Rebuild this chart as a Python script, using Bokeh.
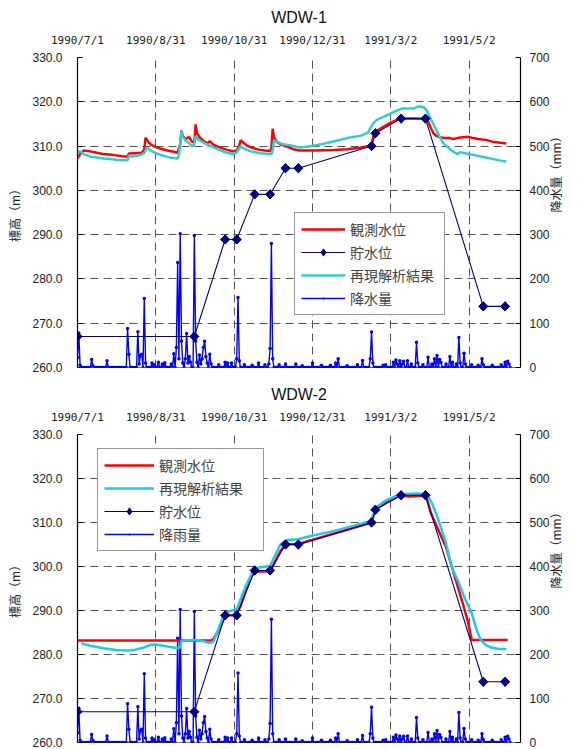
import math
import numpy as np
from bokeh.plotting import figure
from bokeh.models import (Range1d, LinearAxis, FixedTicker, PrintfTickFormatter,
                          Legend, LegendItem, Span, Grid)
from bokeh.layouts import column
from bokeh.embed import file_html
from bokeh.resources import INLINE

# ---------------- data (x = days since 1990/7/1) ----------------
tick_days = [0, 61, 122, 183, 244, 305]
tick_labels = ["1990/7/1", "1990/8/31", "1990/10/31", "1990/12/31", "1991/3/2", "1991/5/2"]
elev_ticks = [260, 270, 280, 290, 300, 310, 320, 330]
rain_ticks = [0, 100, 200, 300, 400, 500, 600, 700]

storage_day = [0, 91, 115, 124, 138, 150, 162, 172, 229, 232, 252, 271, 316, 333]
storage_level = [267.0, 267.0, 288.9, 288.9, 299.1, 299.1, 305.0, 305.0, 310.0, 312.9, 316.2, 316.2, 273.8, 273.8]

rain_day = [0, 1, 2, 11, 12, 23, 39, 40, 47, 48, 49, 50, 52, 53, 58, 60, 63, 66, 68,
            73, 75, 77, 78, 79, 80, 81, 82, 84, 85, 86, 87, 88, 91, 92, 93, 95, 96, 97, 98,
            99, 100, 101, 103, 104, 110, 115, 117, 120, 124, 125, 126, 130, 136, 141, 146,
            149, 150, 151, 152, 157, 162, 170, 175, 183, 190, 197, 201, 203, 210, 218, 222,
            228, 229, 230, 238, 240, 246, 248, 249, 251, 253, 254, 257, 260, 264, 265, 269,
            273, 276, 278, 280, 282, 283, 287, 290, 292, 295, 297, 298, 301, 302, 307, 312,
            315, 316, 323, 330, 333, 335, 336]
rain_mm = [22, 78, 5, 18, 4, 15, 88, 30, 81, 8, 27, 30, 156, 10, 10, 6, 12, 8, 11,
           8, 31, 45, 237, 20, 302, 60, 10, 20, 77, 10, 25, 12, 298, 60, 12, 28, 8, 20, 45,
           59, 25, 10, 30, 8, 6, 12, 10, 10, 20, 158, 15, 6, 5, 10, 6,
           8, 43, 280, 20, 6, 8, 8, 4, 10, 5, 5, 10, 20, 4, 6, 16,
           20, 80, 10, 5, 6, 12, 17, 8, 15, 8, 14, 15, 8, 57, 10, 6,
           23, 8, 20, 27, 18, 12, 8, 25, 12, 8, 68, 10, 32, 8, 6, 5,
           20, 6, 5, 6, 12, 14, 8]
rain_last_day = 337

# WDW-1
obs1_day = [0, 2, 5, 10, 15, 20, 25, 30, 35, 39, 40, 45, 50, 52, 53, 55, 57, 60, 65, 70, 75, 78,
            80, 81, 82, 84, 86, 87, 89, 91, 92, 93, 95, 98, 101, 103, 105, 108, 112, 116, 121,
            124, 126, 127, 129, 132, 136, 141, 146, 150, 151, 152, 153, 155, 158, 163, 168, 173,
            185, 200, 210, 220, 227, 229, 231, 234, 238, 244, 250, 255, 265, 271, 273, 275, 277,
            279, 282, 286, 290, 293, 296, 300, 304, 308, 312, 318, 323, 328, 334]
obs1_level = [307.2, 308.2, 309.0, 308.8, 308.5, 308.2, 308.1, 307.9, 307.7, 307.6, 308.3, 308.4,
              308.5, 309.2, 311.9, 311.0, 310.4, 309.9, 309.4, 309.0, 308.7, 308.5,
              310.5, 313.5, 312.3, 311.6, 311.9, 312.0, 311.0, 310.8, 314.9, 313.0, 312.0, 311.2,
              310.6, 311.1, 310.5, 310.0, 309.6, 309.2, 308.8,
              309.0, 310.0, 311.3, 310.8, 310.1, 309.6, 309.2, 309.0, 308.9, 309.5, 313.9, 312.0,
              311.0, 310.4, 309.9, 309.3, 309.0,
              309.0, 309.1, 309.3, 309.6, 310.0, 310.3, 313.0, 313.6, 314.3, 315.3, 316.1, 316.2,
              316.2, 316.1, 315.6, 314.2, 313.0,
              312.4, 312.0, 311.8, 311.8, 311.6, 311.8, 312.0, 312.1, 311.8, 311.6, 311.4, 311.0,
              310.8, 310.6]
sim1_day = [0, 2, 5, 10, 15, 20, 25, 30, 35, 39, 40, 42, 46, 50, 52, 54, 56, 60, 66, 72, 78, 79,
            81, 82, 84, 86, 88, 90, 91, 92, 94, 97, 100, 105, 110, 115, 121, 124, 127, 130, 135,
            142, 151, 152, 153, 156, 160, 165, 173, 180, 190, 200, 210, 220, 226, 230, 233, 240,
            247, 253, 262, 266, 270, 272, 274, 277, 281, 285, 290, 294, 296, 298, 300, 305, 310,
            315, 320, 325, 330, 334]
sim1_level = [308.6, 308.8, 308.2, 307.6, 307.4, 307.2, 307.1, 306.9, 306.8, 306.8, 307.9, 307.6,
              307.8, 308.1, 308.4, 309.7, 309.2, 308.5, 307.9, 307.4, 307.2, 308.0,
              313.4, 312.2, 311.3, 310.9, 310.3, 309.9, 310.5, 312.2, 311.5, 311.0, 310.5, 309.8,
              309.2, 308.6, 308.2, 308.6, 309.9, 309.4, 308.8,
              308.4, 308.2, 309.0, 311.3, 310.9, 310.4, 310.2, 309.7, 309.9, 310.4, 311.1, 311.8,
              312.3, 313.0, 315.0, 315.9, 316.8,
              317.8, 318.5, 318.5, 319.0, 318.7, 318.0, 316.8, 315.1, 312.7, 310.6, 309.3, 308.5,
              308.2, 308.6, 308.5, 308.2, 307.9,
              307.6, 307.3, 307.0, 306.7, 306.5]

# WDW-2
obs2_day = [0, 20, 40, 60, 80, 104, 106, 109, 112, 115, 122, 124, 127, 131, 135, 138, 150, 153,
            158, 162, 172, 200, 229, 232, 240, 251, 258, 266, 271, 273, 275, 280, 287, 293, 300,
            304, 307, 320, 335]
obs2_level = [283.2, 283.2, 283.2, 283.2, 283.2, 283.2, 283.6, 285.0, 286.8, 288.8, 289.0, 289.3,
              291.0, 294.5, 297.5, 298.8, 298.9, 300.6,
              303.5, 305.0, 305.1, 307.5, 310.0, 313.0, 314.6, 316.1, 315.9, 316.0, 316.1, 314.5,
              312.3, 309.0, 304.4, 298.5, 291.7,
              287.5, 283.3, 283.3, 283.3]
sim2_day = [3, 6, 10, 20, 30, 38, 45, 52, 57, 62, 70, 77, 80, 81, 90, 97, 103, 106, 110, 114,
            118, 124, 127, 131, 136, 140, 150, 153, 158, 163, 172, 180, 200, 228, 233, 240, 251,
            265, 272, 276, 280, 287, 290, 293, 297, 302, 307, 311, 314, 318, 321, 327, 334]
sim2_level = [282.6, 282.3, 282.0, 281.4, 281.0, 280.9, 281.1, 281.6, 282.2, 282.2, 281.8, 281.5,
              281.6, 283.1, 283.3, 283.1, 282.6, 283.0, 286.0, 289.0,
              289.8, 290.3, 292.5, 295.5, 298.5, 299.7, 300.1, 302.0, 305.0, 306.0, 306.2, 306.8,
              308.1, 310.3, 313.5, 315.0, 316.4,
              316.6, 316.4, 314.4, 311.5, 305.3, 301.5, 298.8, 296.2, 292.5, 289.4, 285.5, 283.3,
              282.2, 281.7, 281.3, 281.2]

# ---------------- styling ----------------
FONT_NUM = "Liberation Sans"
FONT_DATE = "DejaVu Sans Mono"
FONT_JP = "Noto Sans CJK JP"
GRID_DASH = "8 5"
RED = "#ff0000"
NAVY = "#000080"
RAIN = "#0000ff"

rain_daily = np.zeros(rain_last_day + 1)
rain_daily[np.array(rain_day)] = np.array(rain_mm, dtype=float)
rain_x = np.arange(rain_last_day + 1)


def make_panel(title, height, border_top, border_bottom, obs_d, obs_v, sim_d, sim_v,
               sim_color, rain_label, order, legend_xy, glyph_w, label_w):
    p = figure(width=577, height=height, x_range=Range1d(0, 345), y_range=Range1d(260, 330),
               output_backend="svg", toolbar_location=None,
               x_axis_location=None, y_axis_location=None,
               min_border_left=77, min_border_right=57,
               min_border_top=border_top, min_border_bottom=border_bottom,
               outline_line_color=None)
    p.center = []
    p.extra_y_ranges = {"rain": Range1d(0, 700)}

    p.add_layout(Grid(dimension=0, ticker=FixedTicker(ticks=tick_days),
                      grid_line_color="#555555", grid_line_dash=GRID_DASH))
    p.add_layout(Grid(dimension=1, ticker=FixedTicker(ticks=elev_ticks),
                      grid_line_color="#555555", grid_line_dash=GRID_DASH))

    left = LinearAxis(ticker=FixedTicker(ticks=elev_ticks),
                      formatter=PrintfTickFormatter(format="%.1f"),
                      axis_label="標高（m）")
    right = LinearAxis(y_range_name="rain", ticker=FixedTicker(ticks=rain_ticks),
                       axis_label="降水量（mm）")
    top = LinearAxis(ticker=FixedTicker(ticks=tick_days),
                     major_label_overrides={d: l for d, l in zip(tick_days, tick_labels)})
    for ax in (left, right):
        ax.axis_line_color = "black"
        ax.axis_line_width = 1.2
        ax.major_tick_in = 5
        ax.major_tick_out = 0
        ax.minor_tick_line_color = None
        ax.major_label_text_font = FONT_NUM
        ax.major_label_text_font_size = "12px"
        ax.major_label_text_color = "#222222"
        ax.axis_label_text_font = FONT_JP
        ax.axis_label_text_font_size = "12px"
        ax.axis_label_text_font_style = "normal"
        ax.axis_label_text_color = "#222222"
    left.major_label_standoff = 15
    left.axis_label_standoff = 6
    right.major_label_standoff = 9
    right.axis_label_standoff = 3
    right.axis_label_orientation = math.pi / 2
    top.axis_line_color = None
    top.major_tick_line_color = None
    top.minor_tick_line_color = None
    top.major_label_standoff = 5
    top.major_label_text_font = FONT_DATE
    top.major_label_text_font_size = "11px"
    top.major_label_text_color = "#222222"
    p.add_layout(left, "left")
    p.add_layout(right, "right")
    p.add_layout(top, "above")

    p.title.text = title
    p.title.align = "center"
    p.title.standoff = 10
    p.title.text_font = FONT_NUM
    p.title.text_font_size = "16px"
    p.title.text_font_style = "normal"
    p.title.text_color = "#111111"

    r_rain_l = p.line(rain_x, rain_daily, y_range_name="rain", line_color=RAIN, line_width=1.4)
    r_rain_s = p.scatter(rain_x, rain_daily, y_range_name="rain", marker="dot", size=14,
                         color=RAIN)
    r_obs = p.line(obs_d, obs_v, line_color=RED, line_width=2.5)
    r_sim = p.line(sim_d, sim_v, line_color=sim_color, line_width=2.5)
    r_st_l = p.line(storage_day, storage_level, line_color=NAVY, line_width=1.1)
    r_st_key = p.scatter(storage_day, storage_level, marker="diamond", size=9, color=NAVY)
    p.scatter(storage_day, storage_level, marker="square", angle=math.pi / 4, size=6.5,
              color=NAVY)

    p.add_layout(Span(location=260, dimension="width", line_color="black", line_width=1.2))

    entries = {
        "obs": LegendItem(label="観測水位", renderers=[r_obs]),
        "sim": LegendItem(label="再現解析結果", renderers=[r_sim]),
        "st": LegendItem(label="貯水位", renderers=[r_st_l, r_st_key]),
        "rain": LegendItem(label=rain_label, renderers=[r_rain_l, r_rain_s]),
    }
    legend = Legend(items=[entries[k] for k in order], location=legend_xy,
                    label_text_font=FONT_JP, label_text_font_size="14px",
                    glyph_width=glyph_w, glyph_height=18, label_height=18, spacing=3,
                    padding=6, label_standoff=5, label_width=label_w,
                    border_line_color="#333333", border_line_width=1,
                    background_fill_color="white", background_fill_alpha=1, margin=0)
    p.add_layout(legend)
    return p


p1 = make_panel("WDW-1", 377, 57, 10, obs1_day, obs1_level, sim1_day, sim1_level,
                "#33cccc", "降水量", ["obs", "st", "sim", "rain"], (217, 52), 44, 88)
p2 = make_panel("WDW-2", 372, 57, 7, obs2_day, obs2_level, sim2_day, sim2_level,
                "#1ec8f5", "降雨量", ["obs", "sim", "st", "rain"], (20, 191), 50, 98)

layout = column(p1, p2)
open("out.html", "w").write(file_html(layout, INLINE))
